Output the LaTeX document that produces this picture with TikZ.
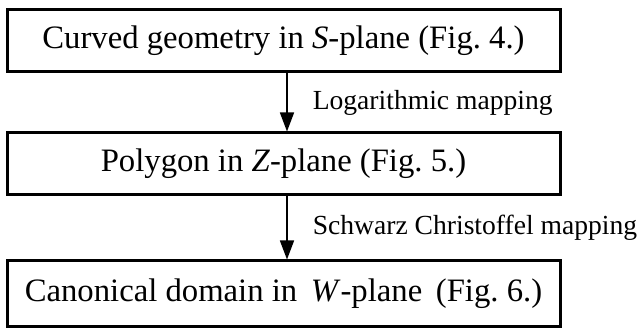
\documentclass[tikz,border=0pt]{standalone}
\usepackage{fontspec}
\setmainfont{Liberation Serif}
\usetikzlibrary{arrows.meta}

\begin{document}
\begin{tikzpicture}[x=1pt,y=1pt,
    planebox/.style={draw,line width=3pt,minimum width=553pt,minimum height=62pt,inner sep=0pt,font=\fontsize{32.7}{36}\selectfont},
    maplabel/.style={anchor=west,inner sep=0pt,font=\fontsize{27.6}{30}\selectfont},
    mapto/.style={line width=1.5pt,-{Triangle[length=19pt,width=14pt]}}]
    \useasboundingbox (0,0) rectangle (641,329);
    \node[planebox] (splane) at (283.5,288) {Curved geometry in \textit{S}-plane (Fig.~4.)};
    \node[planebox] (zplane) at (283.5,165) {Polygon in \textit{Z}-plane (Fig.~5.)};
    \node[planebox,minimum height=66pt] (wplane) at (283.5,35) {Canonical domain in \,\textit{W}-plane \,(Fig.~6.)};
    \draw[mapto] ([xshift=3.5pt]splane.south) -- ([xshift=3.5pt]zplane.north)
        node[maplabel,midway,xshift=25pt] (logmap) {Logarithmic mapping};
    \draw[mapto] ([xshift=3.5pt]zplane.south) -- ([xshift=3.5pt]wplane.north)
        node[maplabel,midway,xshift=25pt] (scmap) {Schwarz Christoffel mapping};
\end{tikzpicture}
\end{document}
